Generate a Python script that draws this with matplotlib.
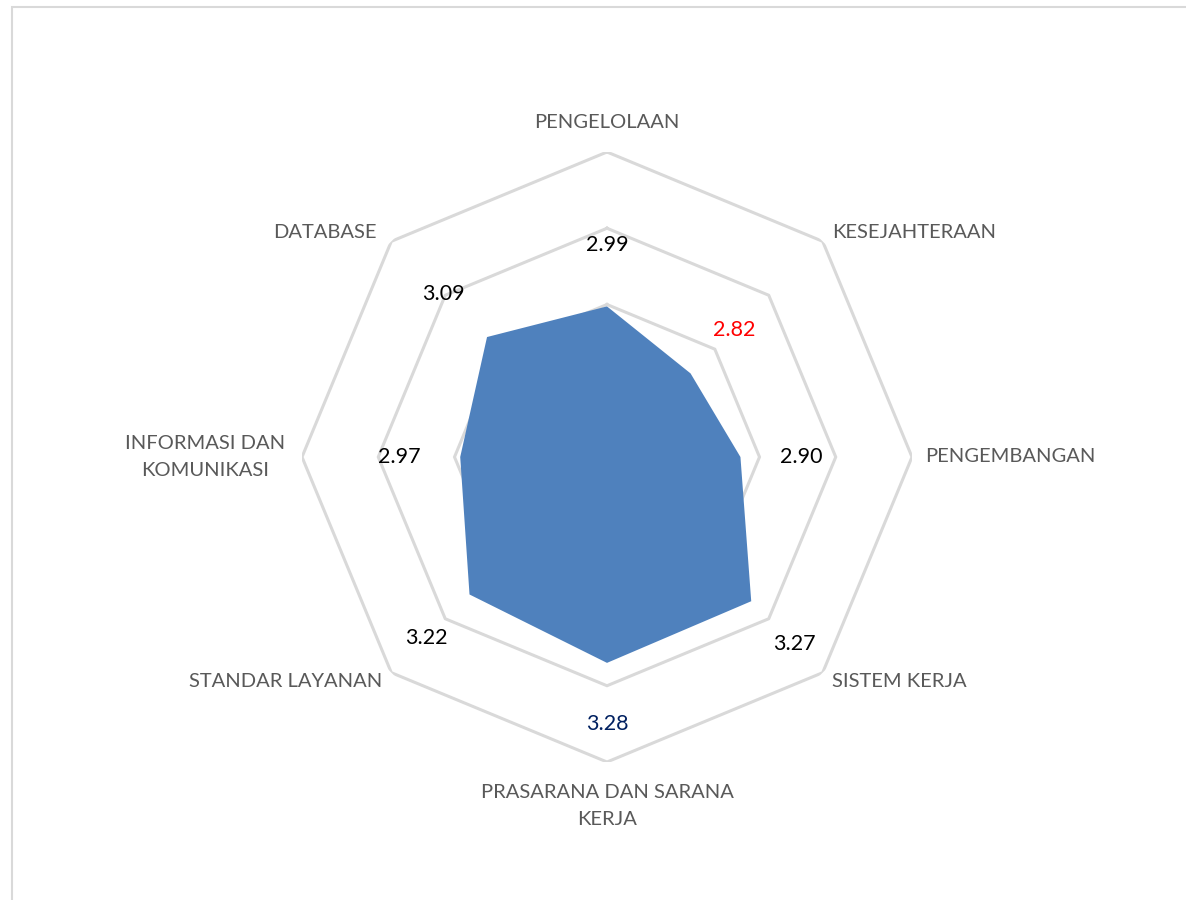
import numpy as np
import matplotlib
matplotlib.use("Agg")
import matplotlib.pyplot as plt
from matplotlib.patches import Rectangle

# data
categories = ["PENGELOLAAN", "KESEJAHTERAAN", "PENGEMBANGAN", "SISTEM KERJA",
              "PRASARANA DAN SARANA\nKERJA", "STANDAR LAYANAN",
              "INFORMASI DAN\nKOMUNIKASI", "DATABASE"]
values = [2.99, 2.82, 2.90, 3.27, 3.28, 3.22, 2.97, 3.09]
value_colors = ["black", "#FF0000", "black", "black", "#002060", "black", "black", "black"]
rings = [2.6, 3.0, 3.4, 3.8]
r_min, r_max = 2.2, 3.8

plt.rcParams['font.family'] = ['Lato', 'DejaVu Sans']

W, H = 1186, 900
fig = plt.figure(figsize=(W / 100, H / 100), dpi=100)

# outer frame
fig.patches.append(Rectangle((12 / W, -0.1), 1.2, (900 - 7) / H + 0.1,
                             transform=fig.transFigure, fill=False,
                             edgecolor="#D9D9D9", linewidth=1.5))

cx, cy, R = 607, 457, 305
ax = fig.add_axes([(cx - R) / W, (H - cy - R) / H, 2 * R / W, 2 * R / H],
                  projection="polar")
ax.set_theta_zero_location("N")
ax.set_theta_direction(-1)
ax.set_ylim(r_min, r_max)
ax.grid(False)
ax.spines["polar"].set_visible(False)
ax.set_xticks([])
ax.set_yticks([])
ax.patch.set_alpha(0)

n = len(categories)
angles = np.arange(n) * 2 * np.pi / n
closed = np.append(angles, angles[0])

for rv in rings:
    ax.plot(closed, [rv] * (n + 1), color="#D9D9D9", linewidth=2.2, zorder=1)

ax.fill(closed, values + values[:1], color="#4F81BD", zorder=2, linewidth=0)

# value labels
for a, v, c in zip(angles, values, value_colors):
    ax.text(a, v + 0.32, f"{v:.2f}", ha="center", va="center",
            fontsize=15.5, color=c, zorder=3)

# category labels
offsets = [(0, 30, "center"), (9, 9, "left"), (13, 0, "left"), (9, -9, "left"),
           (0, -44, "center"), (-9, -9, "right"), (-17, 0, "right"), (-15, 9, "right")]
for a, lab, (dx, dy, ha) in zip(angles, categories, offsets):
    ax.annotate(lab, xy=(a, r_max), xytext=(dx, dy), textcoords="offset pixels",
                ha=ha, va="center", fontsize=14.5, color="#595959",
                multialignment="center", linespacing=1.72,
                annotation_clip=False)

fig.savefig("out.png", dpi=100)
